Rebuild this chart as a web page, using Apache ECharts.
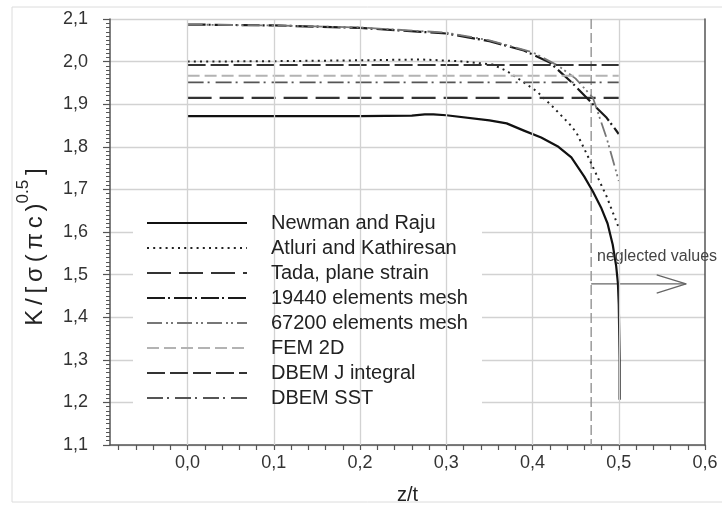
<!DOCTYPE html>
<html><head><meta charset="utf-8">
<script src="https://cdn.jsdelivr.net/npm/echarts@6/dist/echarts.min.js"></script>
<style>html,body{margin:0;padding:0;background:#fff}#c{width:722px;height:515px}</style>
</head><body><div id="c"></div><script>
// ---- data ----
const xTickLabels = [0, 0.1, 0.2, 0.3, 0.4, 0.5, 0.6];
const xMinorTicks = [-0.08,-0.06,-0.04,-0.02,0,0.02,0.04,0.06,0.08,0.1,0.12,0.14,0.16,0.18,0.2,0.22,0.24,0.26,0.28,0.3,0.32,0.34,0.36,0.38,0.4,0.42,0.44,0.46,0.48,0.5,0.52,0.54,0.56,0.58,0.6];
const xGridLines = [0, 0.1, 0.2, 0.3, 0.4, 0.5];
const seriesNames = ['Newman and Raju','Atluri and Kathiresan','Tada, plane strain','19440 elements mesh','67200 elements mesh','FEM 2D','DBEM J integral','DBEM SST'];
const newmanRaju = [[0,1.872],[0.1,1.872],[0.2,1.872],[0.26,1.873],[0.275,1.876],[0.285,1.876],[0.3,1.874],[0.35,1.862],[0.37,1.855],[0.39,1.838],[0.41,1.822],[0.43,1.8],[0.445,1.775],[0.46,1.73],[0.47,1.695],[0.48,1.655],[0.487,1.62],[0.493,1.57],[0.497,1.52],[0.499,1.48],[0.5,1.43],[0.501,1.3],[0.501,1.206]];
const atluriKathiresan = [[0,2.0],[0.1,2.001],[0.2,2.003],[0.27,2.005],[0.316,2.001],[0.354,1.993],[0.37,1.978],[0.385,1.958],[0.405,1.93],[0.424,1.893],[0.443,1.853],[0.451,1.833],[0.466,1.77],[0.486,1.683],[0.5,1.61]];
const tadaPlaneStrain = [[0,1.915],[0.5,1.915]];
const mesh19440 = [[0,2.087],[0.1,2.085],[0.2,2.079],[0.3,2.066],[0.35,2.048],[0.39,2.026],[0.42,1.998],[0.445,1.952],[0.47,1.9],[0.486,1.868],[0.5,1.83]];
const mesh67200 = [[0,2.087],[0.1,2.085],[0.2,2.08],[0.3,2.068],[0.35,2.05],[0.4,2.022],[0.43,1.99],[0.45,1.96],[0.47,1.915],[0.486,1.82],[0.5,1.72]];
const fem2D = [[0,1.967],[0.5,1.967]];
const dbemJIntegral = [[0,1.992],[0.5,1.992]];
const dbemSST = [[0,1.951],[0.5,1.951]];
const neglectLine = [[0.468,2.1],[0.468,1.1]];
const arrowShaft = [[0.468,1.478],[0.578,1.478]];
const arrowHead = [[0.544,1.4995],[0.578,1.478],[0.544,1.4565]];

const FONT = '"Liberation Sans", Arial, sans-serif';
const fmt = v => v.toFixed(1).replace('.', ',');
const TS = '\u2009';

function ln(name, data, color, width, type, z) {
  return { name, type:'line', data, color, symbol:'none', showSymbol:false, animation:false, silent:true, z: z||3,
    lineStyle:{ color, width, type, cap:'butt', join:'round' } };
}

const chart = echarts.init(document.getElementById('c'), null, {renderer:'canvas'});
chart.setOption({
  backgroundColor:'#fff',
  animation:false,
  grid:{ left:110, right:17, top:19, bottom:70 },
  xAxis:{ type:'value', min:-0.09, max:0.6,
    axisLine:{ onZero:false, lineStyle:{ color:'#555', width:1.5 } },
    axisTick:{ show:true, customValues:xMinorTicks, length:5, lineStyle:{ color:'#555', width:1.2 } },
    axisLabel:{ customValues:xTickLabels, formatter:fmt, fontSize:18, fontFamily:FONT, color:'#333', margin:9 },
    splitLine:{ show:false },
    name:'z/t', nameLocation:'middle', nameGap:40, nameTextStyle:{ fontSize:20, fontFamily:FONT, color:'#222' }
  },
  yAxis:[{ type:'value', min:1.1, max:2.1, interval:0.1,
    axisLine:{ show:true, onZero:false, lineStyle:{ color:'#555', width:1.5 } },
    axisTick:{ show:true, length:7, lineStyle:{ color:'#555', width:1.2 } },
    minorTick:{ show:true, splitNumber:10, length:4, lineStyle:{ color:'#555', width:1 } },
    axisLabel:{ formatter:fmt, fontSize:18, fontFamily:FONT, color:'#333', margin:22 },
    splitLine:{ show:true, lineStyle:{ color:'#d2d2d2', width:1.3 } }
  },{ type:'value', min:1.1, max:2.1, interval:0.1, position:'right',
    axisLine:{ show:true, onZero:false, lineStyle:{ color:'#555', width:1.5 } },
    axisTick:{ show:false }, axisLabel:{ show:false }, splitLine:{ show:false } }],
  legend:{ data:seriesNames, orient:'vertical', left:146, top:213, padding:0,
    itemWidth:100, itemHeight:20, itemGap:5, selectedMode:false, z:6,
    itemStyle:{ opacity:0 },
    textStyle:{ fontSize:20, fontFamily:FONT, color:'#222', padding:[0,0,0,19], lineHeight:20 } },
  graphic:[
    { type:'rect', z:-10, silent:true, shape:{ x:12, y:7, width:720, height:495 }, style:{ fill:'#fff', stroke:'#dcdcdc', lineWidth:1 } },
    { type:'rect', z:1, silent:true, shape:{ x:133, y:200, width:349, height:223 }, style:{ fill:'#fff' } },
    { type:'text', z:5, silent:true, x:31, y:247, rotation:Math.PI/2,
      style:{ text:'{a|K'+TS+'/'+TS+'['+TS+'σ'+TS+'('+TS+'π'+TS+'c'+TS+')}{s|0.5}{a|'+TS+']}', align:'center', verticalAlign:'middle',
        rich:{ a:{ fontSize:24, fontFamily:FONT, fill:'#222', lineHeight:32, verticalAlign:'bottom' },
               s:{ fontSize:17, fontFamily:FONT, fill:'#222', lineHeight:32, verticalAlign:'top' } } } },
    { type:'text', z:5, silent:true, x:597, y:257,
      style:{ text:'neglected values', fontSize:16, fontFamily:FONT, fill:'#444', align:'left', verticalAlign:'middle' } }
  ],
  series:[
    { type:'line', data:[], z:0, silent:true, animation:false,
      markLine:{ silent:true, symbol:'none', label:{ show:false }, animation:false,
        lineStyle:{ color:'#d2d2d2', width:1.3, type:'solid' },
        data: xGridLines.map(v => ({ xAxis:v })) } },
    ln('Newman and Raju', newmanRaju, '#111', 2.2, 'solid', 4),
    ln('Atluri and Kathiresan', atluriKathiresan, '#222', 2, [2,4.2]),
    ln('Tada, plane strain', tadaPlaneStrain, '#333', 2.2, [24,8]),
    ln('19440 elements mesh', mesh19440, '#1a1a1a', 2.2, [18,3,2,4]),
    ln('67200 elements mesh', mesh67200, '#777', 1.8, [15,4,2,3,2,4]),
    ln('FEM 2D', fem2D, '#b3b3b3', 2, [12,5]),
    ln('DBEM J integral', dbemJIntegral, '#333', 2.2, [18,5]),
    ln('DBEM SST', dbemSST, '#555', 1.8, [16,4,2,6]),
    ln('', neglectLine, '#9a9a9a', 1.5, [10,4], 2),
    ln('', arrowShaft, '#666', 1.3, 'solid', 2),
    ln('', arrowHead, '#666', 1.3, 'solid', 2)
  ]
});
</script></body></html>
